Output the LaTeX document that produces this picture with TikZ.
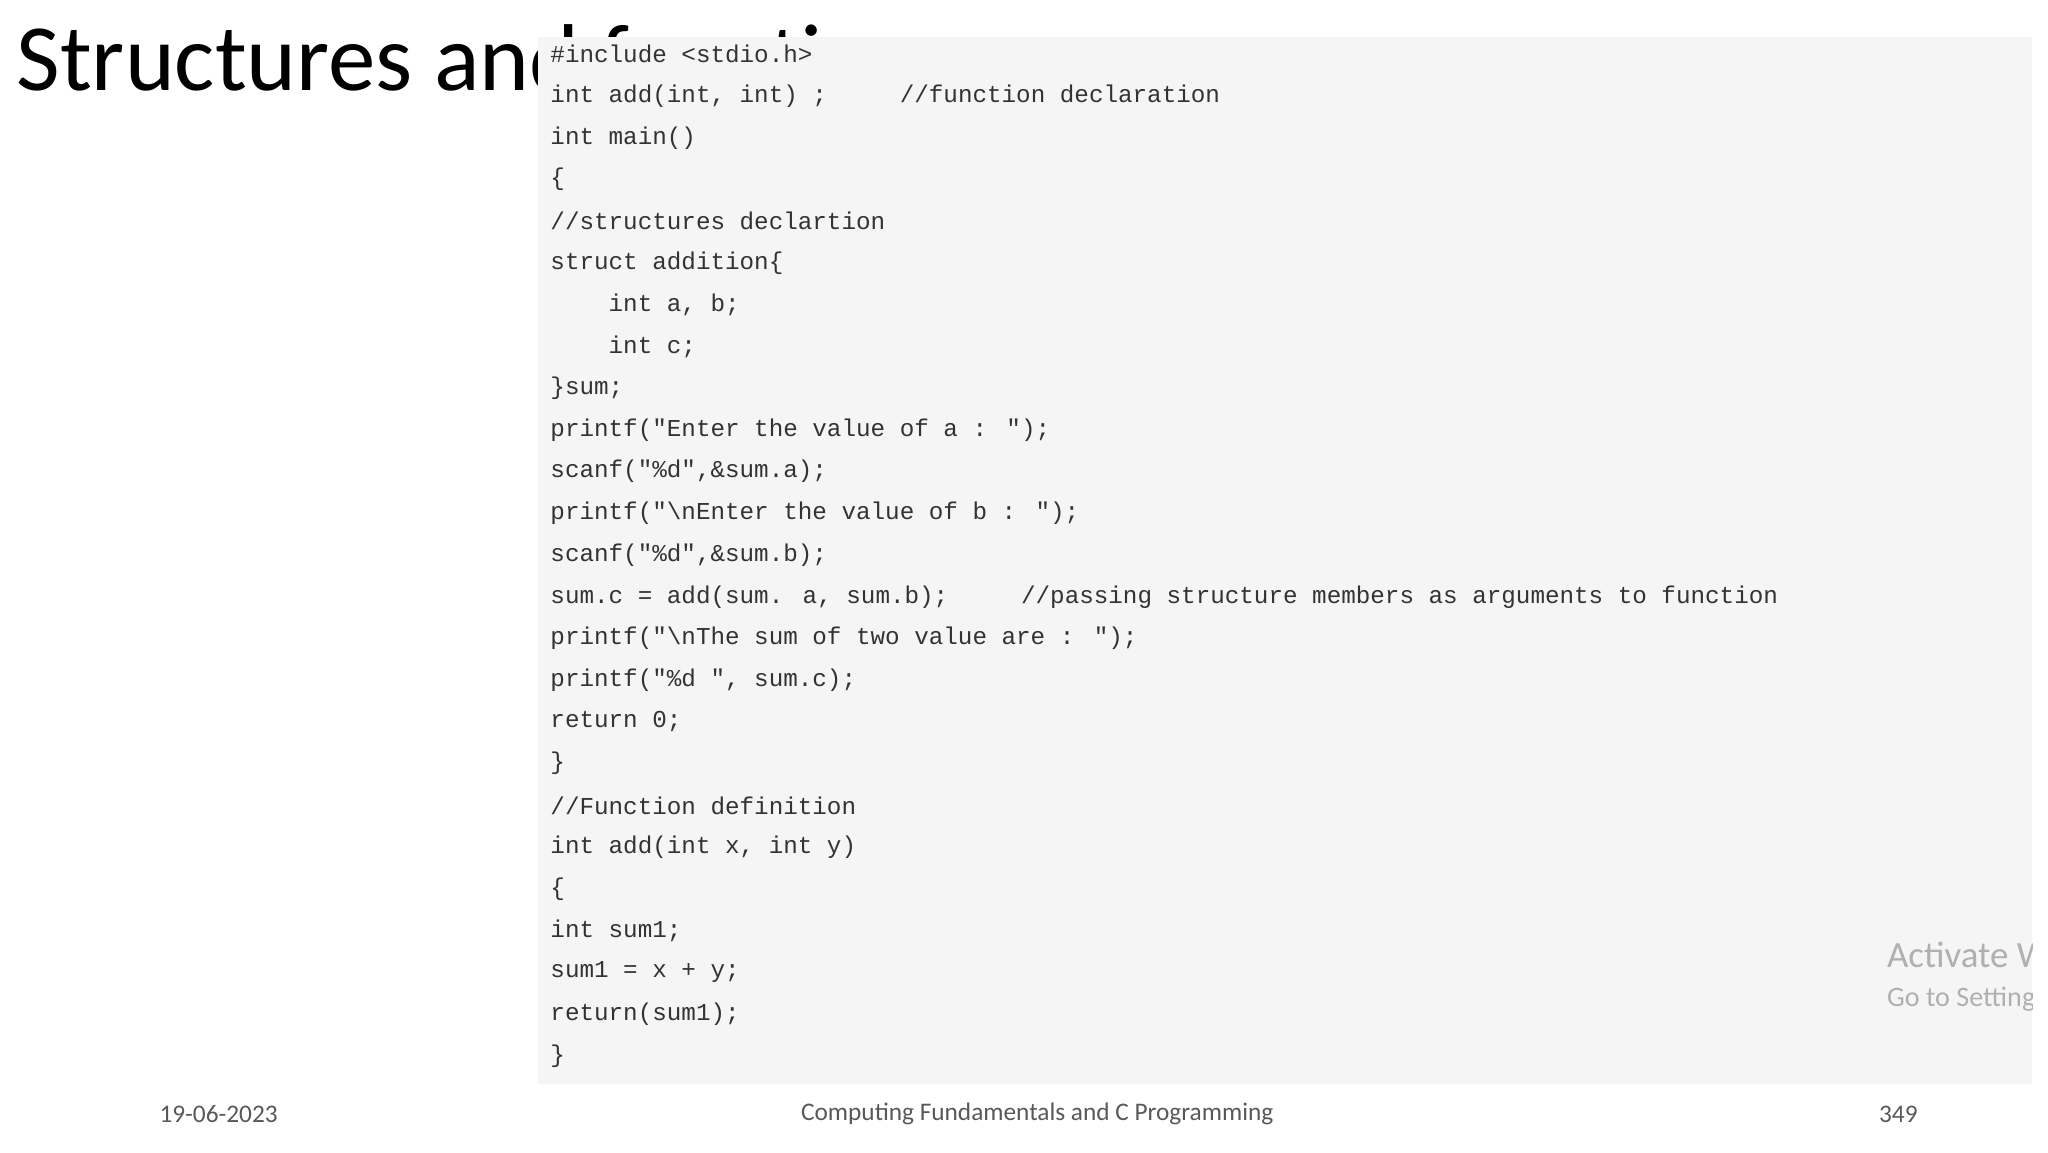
\documentclass[tikz,border=0pt]{standalone}
\usepackage{fontspec}
\setmainfont{Carlito}
\newfontfamily\codefont{Liberation Mono}
\definecolor{codebg}{HTML}{F5F5F5}
\definecolor{codefg}{HTML}{333333}
\definecolor{footgray}{HTML}{595959}
\definecolor{wm}{HTML}{B0B0B0}
\tikzset{
  codeline/.style={anchor=west,inner sep=0pt,font=\codefont\fontsize{6.9pt}{7pt}\selectfont,text=codefg},
  foot/.style={inner sep=0pt,font=\fontsize{7.2pt}{8pt}\selectfont,text=footgray}
}
\begin{document}
\begin{tikzpicture}[x=0.013247cm,y=-0.013247cm]
\useasboundingbox (0,0) rectangle (1546,870);
\fill[white] (0,0) rectangle (1546,870);
\node[anchor=base west,inner sep=0pt,font=\fontsize{27pt}{30pt}\selectfont] (title) at (12,68) {Structures and functions};
\fill[codebg] (406,28) rectangle (1534,818);
\node[codeline] (l0) at (415,41) {\#include <stdio.h>};
\node[codeline] (l1) at (415,72.5) {int add(int, int) ;~~~~~//function declaration};
\node[codeline] (l2) at (415,104) {int main()};
\node[codeline] (l3) at (415,135.5) {\{};
\node[codeline] (l4) at (415,167) {//structures declartion};
\node[codeline] (l5) at (415,198.5) {struct addition\{};
\node[codeline] (l6) at (415,230) {~~~~int a, b;};
\node[codeline] (l7) at (415,261.5) {~~~~int c;};
\node[codeline] (l8) at (415,293) {\}sum;};
\node[codeline] (l9) at (415,324.5) {printf("Enter the value of a : ");};
\node[codeline] (l10) at (415,356) {scanf("\%d",\&sum.a);};
\node[codeline] (l11) at (415,387.5) {printf("\textbackslash nEnter the value of b : ");};
\node[codeline] (l12) at (415,419) {scanf("\%d",\&sum.b);};
\node[codeline] (l13) at (415,450.5) {sum.c = add(sum. a, sum.b);~~~~~//passing structure members as arguments to function};
\node[codeline] (l14) at (415,482) {printf("\textbackslash nThe sum of two value are : ");};
\node[codeline] (l15) at (415,513.5) {printf("\%d ", sum.c);};
\node[codeline] (l16) at (415,545) {return 0;};
\node[codeline] (l17) at (415,576.5) {\}};
\node[codeline] (l18) at (415,608) {//Function definition};
\node[codeline] (l19) at (415,639.5) {int add(int x, int y)};
\node[codeline] (l20) at (415,671) {\{};
\node[codeline] (l21) at (415,702.5) {int sum1;};
\node[codeline] (l22) at (415,734) {sum1 = x + y;};
\node[codeline] (l23) at (415,765.5) {return(sum1);};
\node[codeline] (l24) at (415,797) {\}};
\begin{scope}
\clip (1400,690) rectangle (1534,780);
\node[anchor=west,inner sep=0pt,text=wm,font=\fontsize{10.5pt}{12pt}\selectfont] (wm1) at (1424,721) {Activate Windows};
\node[anchor=west,inner sep=0pt,text=wm,font=\fontsize{8pt}{9pt}\selectfont] (wm2) at (1424,754) {Go to Settings to activate Windows.};
\end{scope}
\node[foot] (date) at (165,841) {19-06-2023};
\node[foot] (course) at (783,841) {Computing Fundamentals and C Programming};
\node[foot] (page) at (1433,841) {349};
\end{tikzpicture}
\end{document}
